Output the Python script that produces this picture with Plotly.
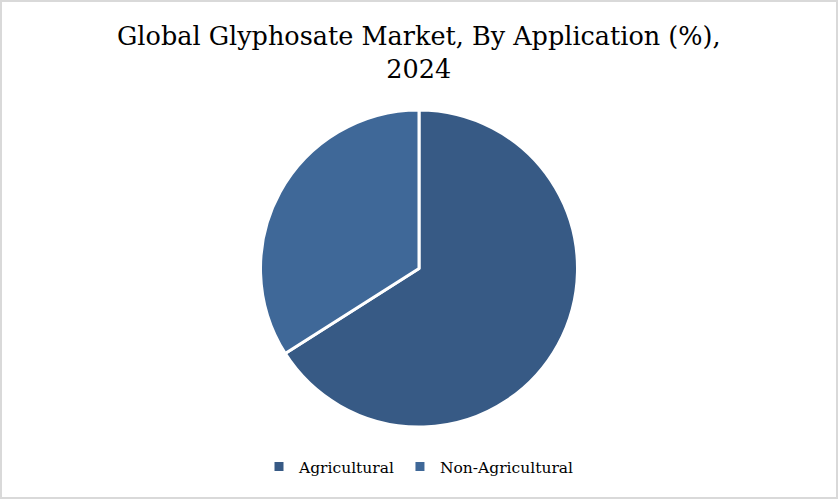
import plotly.graph_objects as go

W, H = 838, 499
categories = ["Agricultural", "Non-Agricultural"]
shares = [66, 34]
colors = ["#375A85", "#3F6898"]
title_lines = ["Global Glyphosate Market, By Application (%),", "2024"]

fig = go.Figure(go.Pie(
    labels=categories,
    values=shares,
    sort=False,
    direction="clockwise",
    rotation=0,
    marker=dict(colors=colors, line=dict(color="white", width=3)),
    textinfo="none",
    hoverinfo="label+percent",
    domain=dict(x=[260 / W, 578 / W], y=[1 - 427 / H, 1 - 110 / H]),
))

fig.update_layout(
    width=W, height=H,
    margin=dict(l=0, r=0, t=0, b=0),
    paper_bgcolor="white",
    plot_bgcolor="white",
    font=dict(family="DejaVu Serif, serif", color="#000000"),
    showlegend=True,
    legend=dict(
        orientation="h",
        x=0.5, xanchor="center",
        y=1 - 467 / H, yanchor="middle",
        font=dict(size=15.5, family="DejaVu Serif, serif", color="#000000"),
        itemwidth=30,
        traceorder="normal",
    ),
    annotations=[dict(
        text="<br>".join(title_lines),
        xref="paper", yref="paper",
        x=0.5, xanchor="center",
        y=1 - 52 / H, yanchor="middle",
        showarrow=False,
        font=dict(size=25.5, family="DejaVu Serif, serif", color="#000000"),
    )],
    shapes=[dict(type="rect", xref="paper", yref="paper", x0=0, y0=0, x1=1, y1=1,
                 line=dict(color="#D9D9D9", width=4), fillcolor="rgba(0,0,0,0)")],
)

fig.write_html(
    "out.html",
    config={"displayModeBar": False},
    post_script="document.body.style.margin='0';document.body.style.overflow='hidden';",
)
